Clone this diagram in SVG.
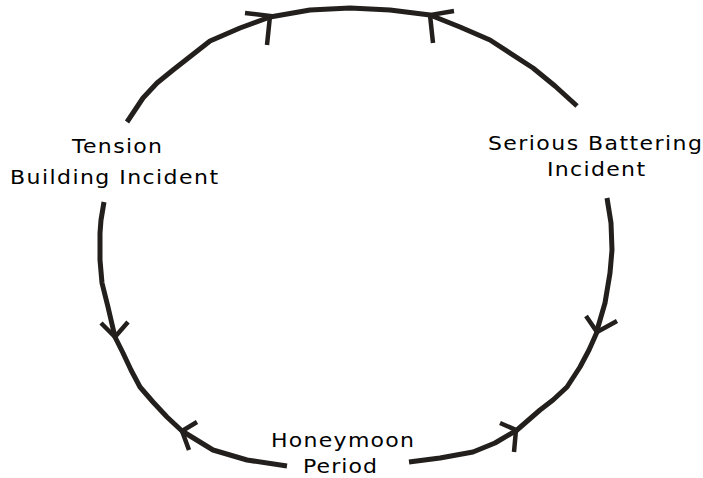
<svg xmlns="http://www.w3.org/2000/svg" width="703" height="478" viewBox="0 0 703 478">
<style>
.arc{fill:none;stroke:#231f1c;stroke-width:5;stroke-linejoin:round;stroke-linecap:butt}
.barb{fill:none;stroke:#231f1c;stroke-width:4.5;stroke-linejoin:miter;stroke-linecap:butt}
.lbl{font-family:"DejaVu Sans","Liberation Sans",sans-serif;font-size:20px;fill:#000}
</style>
<rect width="703" height="478" fill="#fff"/>
<g id="connectors">
<polyline class="arc" points="127,122 135,110 143,98 157,83 173,70 210,41 240,28 270,17 310,10 350,8 390,10 430,15 460,27 490,40 533,68 555,86 577,106"/>
<polyline class="arc" points="607,198 611,223 612,250 610,273 605,303 598,327 597,332 589,350 580,367 567,387 553,400 540,410 517,430 495,443 473,452 440,458 409,462"/>
<polyline class="arc" points="104,202 101,220 100,233 100,260 102,283 108,307 115,337 123,353 131,370 140,387 153,402 167,417 182,431 213,450 247,460 287,466"/>
<polyline class="barb" points="245,13 270,16 267,45"/>
<polyline class="barb" points="454,11 430,15 433,43"/>
<polyline class="barb" points="101,323 115,337 128,322"/>
<polyline class="barb" points="197,422 182,431 189,450"/>
<polyline class="barb" points="586,316 597,332 617,321"/>
<polyline class="barb" points="500,423 516,430 514,452"/>
</g>
<g id="tension" transform="scale(1.1,1)">
<text class="lbl" x="65.5" y="153" textLength="81.8" lengthAdjust="spacing">Tension</text>
<text class="lbl" x="9.1" y="184" textLength="189.1" lengthAdjust="spacing">Building Incident</text>
</g>
<g id="battering" transform="scale(1.1,1)">
<text class="lbl" x="443.6" y="150" textLength="194.5" lengthAdjust="spacing">Serious Battering</text>
<text class="lbl" x="497.3" y="176" textLength="89.1" lengthAdjust="spacing">Incident</text>
</g>
<g id="honeymoon" transform="scale(1.1,1)">
<text class="lbl" x="246.4" y="447" textLength="130" lengthAdjust="spacing">Honeymoon</text>
<text class="lbl" x="275.5" y="473" textLength="67.3" lengthAdjust="spacing">Period</text>
</g>
</svg>
